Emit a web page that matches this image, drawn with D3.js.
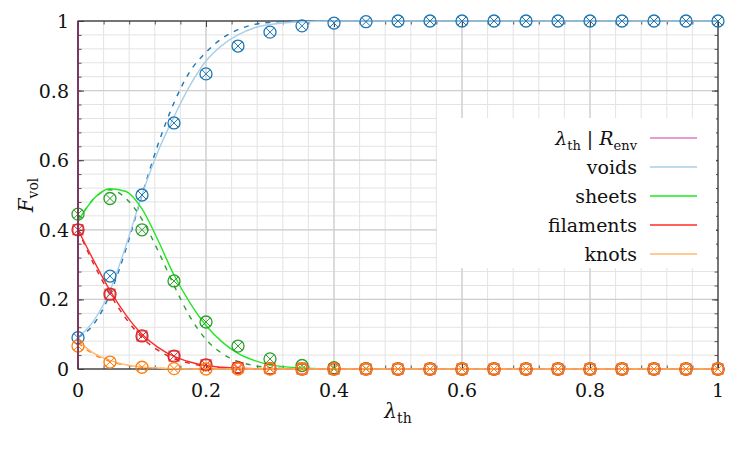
<!DOCTYPE html>
<html>
<head>
<meta charset="utf-8">
<script src="https://cdn.jsdelivr.net/npm/d3@7"></script>
<style>
  body { margin: 0; background: #fff; }
  svg text { font-family: "DejaVu Serif", serif; fill: #111; }
</style>
</head>
<body>
<svg id="chart"></svg>
<script>
// marker sample positions
const lamPts = [0, 0.05, 0.1, 0.15, 0.2, 0.25, 0.3, 0.35, 0.4, 0.45, 0.5, 0.55, 0.6, 0.65, 0.7, 0.75, 0.8, 0.85, 0.9, 0.95, 1];
const voidsPts = [0.09, 0.267, 0.50, 0.707, 0.848, 0.928, 0.968, 0.986, 0.994, 0.998, 1, 1, 1, 1, 1, 1, 1, 1, 1, 1, 1];
const sheetsPts = [0.445, 0.49, 0.40, 0.253, 0.135, 0.066, 0.029, 0.01, 0.004, 0.001, 0, 0, 0, 0, 0, 0, 0, 0, 0, 0, 0];
const filamentsPts = [0.40, 0.215, 0.095, 0.037, 0.012, 0.004, 0.001, 0, 0, 0, 0, 0, 0, 0, 0, 0, 0, 0, 0, 0, 0];
const knotsPts = [0.066, 0.02, 0.005, 0.001, 0, 0, 0, 0, 0, 0, 0, 0, 0, 0, 0, 0, 0, 0, 0, 0, 0];

// curve sample positions
const lamCurve = [0, 0.025, 0.05, 0.075, 0.1, 0.125, 0.15, 0.175, 0.2, 0.225, 0.25, 0.275, 0.3, 0.35, 0.4, 0.5, 1];
const voidsSolid = [0.09, 0.14, 0.225, 0.355, 0.50, 0.625, 0.725, 0.815, 0.885, 0.93, 0.96, 0.98, 0.99, 0.998, 1, 1, 1];
const voidsDash = [0.09, 0.13, 0.215, 0.345, 0.50, 0.645, 0.765, 0.855, 0.91, 0.95, 0.975, 0.99, 0.996, 1, 1, 1, 1];
const sheetsSolid = [0.425, 0.49, 0.518, 0.51, 0.46, 0.37, 0.27, 0.19, 0.125, 0.078, 0.045, 0.025, 0.012, 0.003, 0, 0, 0];
const sheetsDash = [0.425, 0.49, 0.515, 0.49, 0.43, 0.34, 0.24, 0.15, 0.085, 0.045, 0.022, 0.01, 0.004, 0, 0, 0, 0];
const filamentsSolid = [0.40, 0.31, 0.225, 0.155, 0.10, 0.062, 0.036, 0.02, 0.01, 0.005, 0.002, 0.001, 0, 0, 0, 0, 0];
const filamentsDash = [0.40, 0.30, 0.215, 0.145, 0.09, 0.054, 0.03, 0.016, 0.008, 0.003, 0.001, 0, 0, 0, 0, 0, 0];
const knotsSolid = [0.08, 0.045, 0.025, 0.012, 0.006, 0.003, 0.001, 0, 0, 0, 0, 0, 0, 0, 0, 0, 0];
const knotsDash = [0.075, 0.042, 0.022, 0.011, 0.005, 0.002, 0.001, 0, 0, 0, 0, 0, 0, 0, 0, 0, 0];

const xTicks = [0, 0.2, 0.4, 0.6, 0.8, 1];
const yTicks = [0, 0.2, 0.4, 0.6, 0.8, 1];
const minorTicks = d3.range(0, 26).map(i => i * 0.04);

const legendNames = ['voids', 'sheets', 'filaments', 'knots'];

const series = [
  { name: 'voids', pts: voidsPts, solid: voidsSolid, dash: voidsDash, light: '#a9cfe8', dark: '#1f77b4' },
  { name: 'sheets', pts: sheetsPts, solid: sheetsSolid, dash: sheetsDash, light: '#22e622', dark: '#2ca02c' },
  { name: 'filaments', pts: filamentsPts, solid: filamentsSolid, dash: filamentsDash, light: '#ff2a2a', dark: '#d62728', square: true },
  { name: 'knots', pts: knotsPts, solid: knotsSolid, dash: knotsDash, light: '#ffb870', dark: '#ff7f0e' }
];

const config = {
  width: 750, height: 450,
  margin: { top: 21, right: 32, bottom: 81, left: 78 }
};

const svg = d3.select('#chart')
  .attr('width', config.width)
  .attr('height', config.height);

const w = config.width - config.margin.left - config.margin.right;
const h = config.height - config.margin.top - config.margin.bottom;

const chart = svg.append('g')
  .attr('transform', `translate(${config.margin.left},${config.margin.top})`);

const xScale = d3.scaleLinear().domain([0, 1]).range([0, w]);
const yScale = d3.scaleLinear().domain([0, 1]).range([h, 0]);

// minor grid
chart.append('g').selectAll('line.vminor')
  .data(minorTicks)
  .join('line')
  .attr('x1', d => xScale(d)).attr('x2', d => xScale(d))
  .attr('y1', 0).attr('y2', h)
  .attr('stroke', '#e3e3e3').attr('stroke-width', 1);
chart.append('g').selectAll('line.hminor')
  .data(minorTicks)
  .join('line')
  .attr('y1', d => yScale(d)).attr('y2', d => yScale(d))
  .attr('x1', 0).attr('x2', w)
  .attr('stroke', '#e3e3e3').attr('stroke-width', 1);

// major grid
chart.append('g').selectAll('line')
  .data(xTicks)
  .join('line')
  .attr('x1', d => xScale(d)).attr('x2', d => xScale(d))
  .attr('y1', 0).attr('y2', h)
  .attr('stroke', '#cfcfcf').attr('stroke-width', 1.3);
chart.append('g').selectAll('line')
  .data(yTicks)
  .join('line')
  .attr('y1', d => yScale(d)).attr('y2', d => yScale(d))
  .attr('x1', 0).attr('x2', w)
  .attr('stroke', '#cfcfcf').attr('stroke-width', 1.3);

// axes with inward ticks on all sides
const tickFmt = d => d === 0 || d === 1 ? String(d) : d.toFixed(1);
const axes = [
  { ax: d3.axisBottom(xScale), tr: `translate(0,${h})` },
  { ax: d3.axisTop(xScale), tr: 'translate(0,0)' },
  { ax: d3.axisLeft(yScale), tr: 'translate(0,0)' },
  { ax: d3.axisRight(yScale), tr: `translate(${w},0)` }
];
axes.forEach(a => {
  chart.append('g').attr('transform', a.tr)
    .call(a.ax.tickValues(minorTicks).tickSize(-3.5).tickFormat(''))
    .call(g => g.select('.domain').remove())
    .call(g => g.selectAll('line').attr('stroke', '#555'));
  chart.append('g').attr('transform', a.tr)
    .call(a.ax.tickValues(xTicks).tickSize(-6).tickFormat(''))
    .call(g => g.select('.domain').remove())
    .call(g => g.selectAll('line').attr('stroke', '#444'));
});

// tick labels
chart.append('g').selectAll('text')
  .data(xTicks)
  .join('text')
  .attr('x', d => xScale(d))
  .attr('y', h + 28)
  .attr('text-anchor', 'middle')
  .style('font-size', '19px')
  .text(tickFmt);
chart.append('g').selectAll('text')
  .data(yTicks)
  .join('text')
  .attr('x', -9)
  .attr('y', d => yScale(d) + 7)
  .attr('text-anchor', 'end')
  .style('font-size', '19px')
  .text(tickFmt);

// frame
chart.append('rect')
  .attr('width', w).attr('height', h)
  .attr('fill', 'none').attr('stroke', '#333').attr('stroke-width', 1.2);

// curves
const line = d3.line()
  .x((d, i) => xScale(lamCurve[i]))
  .y(d => yScale(d))
  .curve(d3.curveMonotoneX);

series.forEach(s => {
  chart.append('path')
    .datum(s.dash)
    .attr('d', line)
    .attr('fill', 'none')
    .attr('stroke', s.dark)
    .attr('stroke-width', 1.4)
    .attr('stroke-dasharray', '5,6');
  chart.append('path')
    .datum(s.solid)
    .attr('d', line)
    .attr('fill', 'none')
    .attr('stroke', s.light)
    .attr('stroke-width', 1.4);
});

// markers
series.forEach(s => {
  const g = chart.append('g').selectAll('g')
    .data(s.pts)
    .join('g')
    .attr('transform', (d, i) => `translate(${xScale(lamPts[i])},${yScale(d)})`)
    .attr('stroke', s.dark)
    .attr('stroke-width', 1.3)
    .attr('fill', 'none');
  g.append('circle').attr('r', 6);
  g.append('path').attr('d', 'M-4,-4L4,4M-4,4L4,-4').attr('stroke-width', 1);
  if (s.square) {
    g.append('rect').attr('x', -5).attr('y', -5).attr('width', 10).attr('height', 10).attr('stroke-width', 1);
  }
});

// lambda_th | R_env series: drawn along lambda = 0
chart.append('line')
  .attr('x1', xScale(0)).attr('x2', xScale(0))
  .attr('y1', yScale(0)).attr('y2', yScale(1))
  .attr('stroke', '#80295f').attr('stroke-width', 1.6);

// axis titles
const xTitle = svg.append('text')
  .attr('x', config.margin.left + w / 2)
  .attr('y', 418)
  .attr('text-anchor', 'middle')
  .style('font-size', '20px');
xTitle.append('tspan').style('font-style', 'italic').text('λ');
xTitle.append('tspan').attr('dy', 5).style('font-size', '14px').text('th');

const yTitle = svg.append('text')
  .attr('transform', `translate(33,${config.margin.top + h / 2}) rotate(-90)`)
  .attr('text-anchor', 'middle')
  .style('font-size', '20px');
yTitle.append('tspan').style('font-style', 'italic').text('F');
yTitle.append('tspan').attr('dy', 5).style('font-size', '14px').text('vol');

// legend
const legend = svg.append('g');
legend.append('rect')
  .attr('x', 437).attr('y', 118)
  .attr('width', 279).attr('height', 150)
  .attr('fill', '#fff');

const legendRows = [{ label: null, color: '#e377c2' }].concat(
  legendNames.map((n, i) => ({ label: n, color: series[i].light })));

const entry = legend.selectAll('g.entry')
  .data(legendRows)
  .join('g')
  .attr('class', 'entry')
  .attr('transform', (d, i) => `translate(0,${138 + i * 29})`);

entry.append('line')
  .attr('x1', 650).attr('x2', 697)
  .attr('y1', 0).attr('y2', 0)
  .attr('stroke', d => d.color)
  .attr('stroke-width', 1.4);

entry.each(function(d) {
  const t = d3.select(this).append('text')
    .attr('x', 637).attr('y', 7)
    .attr('text-anchor', 'end')
    .style('font-size', '19px');
  if (d.label) {
    t.text(d.label);
  } else {
    t.append('tspan').style('font-style', 'italic').text('λ');
    t.append('tspan').attr('dy', 5).style('font-size', '13px').text('th');
    t.append('tspan').attr('dy', -5).text(' | ');
    t.append('tspan').style('font-style', 'italic').text('R');
    t.append('tspan').attr('dy', 5).style('font-size', '13px').text('env');
  }
});
</script>
</body>
</html>
